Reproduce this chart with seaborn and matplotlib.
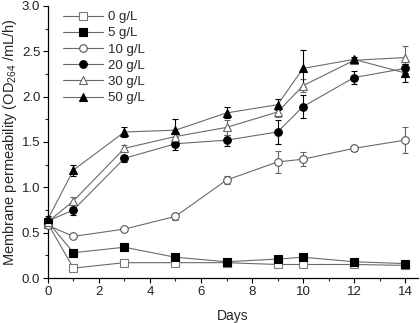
import matplotlib
matplotlib.use("Agg")
import matplotlib.pyplot as plt
import seaborn as sns
import pandas as pd
import numpy as np

days = [0, 1, 3, 5, 7, 9, 10, 12, 14]
labels = ["0 g/L", "5 g/L", "10 g/L", "20 g/L", "30 g/L", "50 g/L"]

perm_0 = [0.60, 0.11, 0.17, 0.17, 0.17, 0.15, 0.15, 0.15, 0.14]
perm_5 = [0.62, 0.28, 0.34, 0.23, 0.18, 0.21, 0.23, 0.18, 0.16]
perm_10 = [0.58, 0.46, 0.54, 0.68, 1.08, 1.28, 1.31, 1.43, 1.52]
perm_20 = [0.63, 0.75, 1.32, 1.48, 1.52, 1.61, 1.89, 2.21, 2.31]
perm_30 = [0.62, 0.85, 1.43, 1.56, 1.66, 1.83, 2.12, 2.40, 2.43]
perm_50 = [0.65, 1.19, 1.61, 1.63, 1.82, 1.91, 2.31, 2.41, 2.26]

err_0 = [0.03, 0.02, 0.02, 0.02, 0.02, 0.02, 0.02, 0.02, 0.02]
err_5 = [0.03, 0.02, 0.02, 0.02, 0.02, 0.02, 0.02, 0.02, 0.02]
err_10 = [0.03, 0.02, 0.02, 0.04, 0.04, 0.12, 0.08, 0.03, 0.14]
err_20 = [0.03, 0.05, 0.04, 0.07, 0.06, 0.13, 0.13, 0.07, 0.05]
err_30 = [0.03, 0.04, 0.04, 0.05, 0.08, 0.05, 0.07, 0.03, 0.13]
err_50 = [0.03, 0.06, 0.06, 0.12, 0.06, 0.06, 0.20, 0.03, 0.10]

means = [perm_0, perm_5, perm_10, perm_20, perm_30, perm_50]
errs = [err_0, err_5, err_10, err_20, err_30, err_50]

# marker style per concentration: (marker, facecolor, edgecolor)
styles = [
    ("s", "white", "#7a7a7a"),
    ("s", "black", "black"),
    ("o", "white", "#555555"),
    ("o", "black", "black"),
    ("^", "white", "#666666"),
    ("^", "black", "black"),
]

rows = []
for lab, m, e in zip(labels, means, errs):
    for d, v, s in zip(days, m, e):
        rows.append({"Days": d, "Permeability": v, "SD": s, "Group": lab})
df = pd.DataFrame(rows)

sns.set_theme(style="ticks")
plt.rcParams["font.family"] = ["Liberation Sans", "DejaVu Sans"]
plt.rcParams["mathtext.fontset"] = "custom"
plt.rcParams["mathtext.rm"] = "Liberation Sans"
plt.rcParams["mathtext.it"] = "Liberation Sans"

fig = plt.figure(figsize=(4.2, 3.23), dpi=100)
ax = fig.add_axes([0.114, 0.139, 0.881, 0.843])

line_color = "#6a6a6a"
for lab, (mk, fc, ec) in zip(labels, styles):
    sub = df[df["Group"] == lab]
    ax.errorbar(sub["Days"], sub["Permeability"], yerr=sub["SD"], fmt="none",
                ecolor=ec if fc == "black" else "#666666", elinewidth=0.8,
                capsize=2.5, capthick=0.8, zorder=2, clip_on=False)
    sns.lineplot(data=sub, x="Days", y="Permeability", ax=ax, color=line_color,
                 linewidth=0.8, marker=mk, markersize=5.5 if mk != "^" else 6,
                 markerfacecolor=fc, markeredgecolor=ec, markeredgewidth=0.8,
                 label=lab, zorder=3, clip_on=False)

ax.set_xlim(0, 14.5)
ax.set_ylim(0, 3.0)
ax.set_xticks(np.arange(0, 15, 2))
ax.set_xticks(np.arange(1, 15, 2), minor=True)
ax.set_yticks(np.arange(0, 3.01, 0.5))
ax.set_yticks(np.arange(0.25, 3.0, 0.5), minor=True)
ax.tick_params(axis="both", which="major", labelsize=9.5, length=3.5, width=0.8,
               direction="out", pad=2, color="black", labelcolor="#222222")
ax.tick_params(axis="both", which="minor", length=2, width=0.8, direction="out")
ax.yaxis.set_major_formatter(matplotlib.ticker.FormatStrFormatter("%.1f"))
for sp in ["top", "right"]:
    ax.spines[sp].set_visible(False)
for sp in ["left", "bottom"]:
    ax.spines[sp].set_linewidth(0.9)
    ax.spines[sp].set_color("black")

ax.set_xlabel("Days", fontsize=10, labelpad=8)
ax.set_ylabel("Membrane permeability (OD$_{264}$ /mL/h)", fontsize=10.5, labelpad=2)

leg = ax.legend(loc="upper left", bbox_to_anchor=(0.02, 1.01), frameon=False,
                fontsize=9.5, handlelength=3.0, handletextpad=0.4,
                labelspacing=0.3, borderaxespad=0.2)

fig.savefig("out.png", dpi=100)
